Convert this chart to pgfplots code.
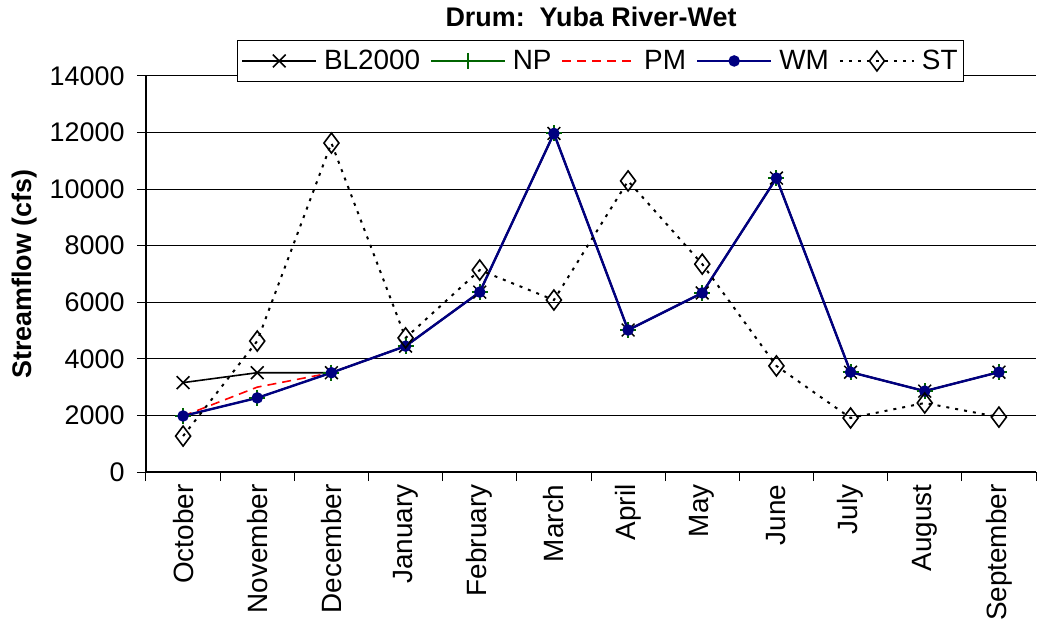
\documentclass[border=0pt]{standalone}
\usepackage{pgfplots}
\pgfplotsset{compat=1.18}
\usepackage{fontspec}
\setmainfont{Liberation Sans}

% monthly streamflow, water year order
\pgfplotstableread{
m   bl     np     pm     wm     st
1   3160   1980   1980   1980   1270
2   3510   2620   3000   2620   4630
3   3510   3510   3510   3510   11630
4   4450   4450   4450   4450   4740
5   6360   6360   6360   6360   7140
6   11970  11970  11970  11970  6080
7   5020   5020   5020   5020   10290
8   6330   6330   6330   6330   7350
9   10390  10390  10390  10390  3750
10  3530   3530   3530   3530   1910
11  2860   2860   2860   2860   2440
12  3530   3530   3530   3530   1940
}\flows

\definecolor{npgreen}{RGB}{0,100,0}
\definecolor{wmnavy}{RGB}{0,0,128}

\begin{document}
\begin{tikzpicture}
\begin{axis}[
  name=ax,
  scale only axis, width=890bp, height=396bp,
  xmin=0.5, xmax=12.5, ymin=0, ymax=14000,
  axis x line=bottom, axis y line=left, axis line style={-, black, line width=1.2bp},
  xtick={0.5,1.5,...,12.5}, x tick label as interval,
  xticklabels={October,November,December,January,February,March,April,May,June,July,August,September},
  xticklabel style={rotate=90, anchor=east, font=\fontsize{28}{32}\selectfont},
  ytick={0,2000,...,14000}, scaled y ticks=false,
  yticklabel style={xshift=-9bp, font=\fontsize{27}{31}\selectfont},
  ymajorgrids, grid style={black, line width=1bp},
  tick align=outside, major tick length=9bp,
  tick style={black, line width=1bp},
  /pgf/number format/assume math mode=true,
  /pgf/number format/1000 sep={},
  ylabel={\bfseries Streamflow (cfs)},
  ylabel style={font=\fontsize{27}{31}\selectfont, at={(axis description cs:-0.137,0.5)}, anchor=center},
  title={\bfseries Drum:\ \ Yuba River-Wet},
  title style={font=\fontsize{27}{31}\selectfont, at={(axis description cs:0.5,1)}, anchor=base, yshift=44bp},
  legend columns=5,
  legend style={at={(0.5107,0.985)}, anchor=south, draw=black, line width=1bp,
    font=\fontsize{28}{32}\selectfont, inner xsep=4bp, inner ysep=8bp,
    /tikz/every odd column/.append style={column sep=5bp},
    /tikz/every even column/.append style={column sep=8bp}},
  legend image code/.code={\draw[mark repeat=2, mark phase=2] plot coordinates {(0bp,0bp) (37bp,0bp) (74bp,0bp)};},
]
\addplot[black, line width=1.6bp, mark=x, mark size=9bp, mark options={solid, line width=1.5bp}] table[x=m, y=bl] {\flows};
\addlegendentry{BL2000}
\addplot[npgreen, line width=1.6bp, mark=+, mark size=8bp, mark options={solid, line width=2bp}] table[x=m, y=np] {\flows};
\addlegendentry{NP}
\addplot[red, line width=1.6bp, dash pattern=on 9bp off 6bp] table[x=m, y=pm] {\flows};
\addlegendentry{PM}
\addplot[wmnavy, line width=2.4bp, mark=*, mark size=4.5bp, mark options={solid}] table[x=m, y=wm] {\flows};
\addlegendentry{WM}
\addplot[black, line width=2bp, dash pattern=on 3bp off 6bp, mark=diamond, mark size=10bp, mark options={solid, fill=white, line width=1.6bp}] table[x=m, y=st] {\flows};
\addlegendentry{ST}
\end{axis}
\pgfresetboundingbox
\path (ax.south west) ++(-146bp,-157bp) rectangle ++(1052bp,629bp);
\end{tikzpicture}
\end{document}
